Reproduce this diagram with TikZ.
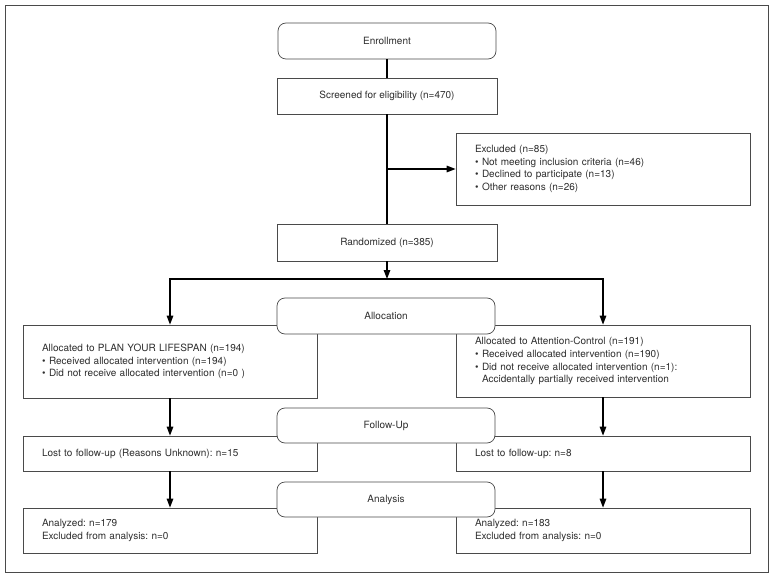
\documentclass[tikz,border=0pt]{standalone}
\usepackage{fontspec}
\setmainfont{TeX Gyre Heros}
\usepackage{xcolor}
\usepackage{tikz}
\usetikzlibrary{positioning,arrows.meta}
\definecolor{ink}{HTML}{2E2E2E}
\definecolor{rule}{HTML}{4A4A4A}
\newcommand{\bitem}[1]{\makebox[7pt][l]{\textbullet}#1}
\frenchspacing

\begin{document}
\begin{tikzpicture}[x=1pt,y=-1pt,
    font=\fontsize{10}{12.8}\selectfont, text=ink,
    infoBox/.style={draw=rule, line width=0.7pt, fill=white, minimum width=294pt,
      text width=256pt, inner xsep=19pt, align=left},
    midBox/.style={draw=rule, line width=0.7pt, fill=white, minimum width=220pt, align=center},
    stageBox/.style={midBox, rounded corners=8pt, minimum width=218pt, minimum height=36pt},
    flowLine/.style={line width=1.4pt, black},
    flowArrow/.style={flowLine, -{Triangle[length=9pt,width=6.5pt]}}]
  \useasboundingbox (0,0) rectangle (773,577);
  \draw[rule, line width=0.7pt] (5,5) rectangle (768,572);

  % enrollment
  \node[stageBox] (enroll) at (387,41) {Enrollment};
  \node[midBox, minimum height=36pt] (screen) at (387,96) {Screened for eligibility (n=470)};
  \node[infoBox, minimum height=72pt] (excl) at (603,169) {%
    Excluded (n=85)\\
    \bitem{Not meeting inclusion criteria (n=46)}\\
    \bitem{Declined to participate (n=13)}\\
    \bitem{Other reasons (n=26)}};
  \node[midBox, minimum height=37pt] (rand) at (387,242.5) {Randomized (n=385)};

  % arms
  \node[infoBox, minimum height=73pt] (allocL) at (170,361.5) {%
    Allocated to PLAN YOUR LIFESPAN (n=194)\\
    \bitem{Received allocated intervention (n=194)}\\
    \bitem{Did not receive allocated intervention (n=0 )}};
  \node[infoBox, minimum height=72pt] (allocR) at (603,361) {%
    Allocated to Attention-Control (n=191)\\
    \bitem{Received allocated intervention (n=190)}\\
    \bitem{Did not receive allocated intervention (n=1):}\\
    \hspace*{7pt}Accidentally partially received intervention};
  \node[infoBox, minimum height=35pt] (lostL) at (170,453.5) {Lost to follow-up (Reasons Unknown): n=15};
  \node[infoBox, minimum height=35pt] (lostR) at (603,453.5) {Lost to follow-up: n=8};
  \node[infoBox, minimum height=45pt] (anaL) at (170,530.5) {%
    Analyzed: n=179\\
    Excluded from analysis: n=0};
  \node[infoBox, minimum height=45pt] (anaR) at (603,530.5) {%
    Analyzed: n=183\\
    Excluded from analysis: n=0};

  % connectors
  \draw[flowLine] (enroll) -- (screen);
  \draw[flowLine] (screen) -- (rand);
  \coordinate (exclTap) at (screen.south |- excl.west);
  \draw[flowArrow] (exclTap) -- (excl.west);
  \coordinate (split) at (387,279);
  \draw[flowArrow] (rand) -- (split);
  \draw[flowArrow] (split) -| (allocL.north);
  \draw[flowArrow] (split) -| (allocR.north);
  \draw[flowArrow] (allocL) -- (lostL);
  \draw[flowArrow] (lostL) -- (anaL);
  \draw[flowArrow] (allocR) -- (lostR);
  \draw[flowArrow] (lostR) -- (anaR);

  % stage labels on top
  \node[stageBox] (allocStage) at (386,316) {Allocation};
  \node[stageBox, minimum height=35pt] (fupStage) at (386,425.5) {Follow-Up};
  \node[stageBox, minimum height=35pt] (anaStage) at (386,499.5) {Analysis};
\end{tikzpicture}
\end{document}
